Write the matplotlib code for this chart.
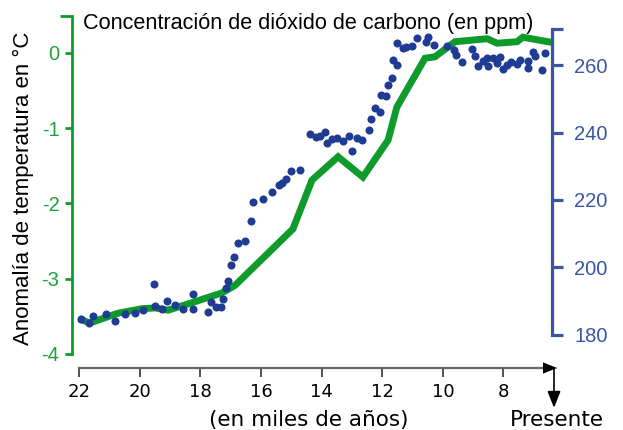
import matplotlib
matplotlib.use("Agg")
import matplotlib.pyplot as plt

plt.rcParams['axes.unicode_minus'] = False

# temperature anomaly (green line), thousands of years before present
temp_age = [21.91, 21.65, 20.72, 19.93, 19.50, 19.07, 18.28, 17.29, 16.86,
            14.95, 14.32, 13.46, 12.64, 11.81, 11.52, 10.59, 10.26, 9.60,
            8.54, 8.21, 7.55, 7.36, 6.53]
temp_anom = [-3.55, -3.59, -3.46, -3.40, -3.39, -3.42, -3.32, -3.19, -3.09,
             -2.34, -1.69, -1.38, -1.65, -1.16, -0.72, -0.07, -0.05, 0.15,
             0.19, 0.13, 0.15, 0.21, 0.15]

# CO2 concentration (blue dots)
co2_age = [21.94, 21.68, 21.55, 21.12, 20.82, 20.49, 20.16, 19.90, 19.53, 19.50,
           19.27, 19.11, 18.84, 18.58, 18.25, 18.25, 17.75, 17.65, 17.49, 17.32,
           17.26, 17.16, 17.09, 16.99, 16.89, 16.76, 16.53, 16.33, 16.27, 15.94,
           15.64, 15.41, 15.31, 15.18, 15.01, 14.72, 14.39, 14.19, 14.06, 13.90,
           13.83, 13.66, 13.50, 13.30, 13.10, 13.00, 12.84, 12.67, 12.44, 12.37,
           12.24, 12.08, 12.04, 11.88, 11.81, 11.68, 11.65, 11.51, 11.51, 11.32,
           11.22, 11.02, 10.86, 10.56, 10.49, 10.30, 9.87, 9.64, 9.57, 9.37,
           9.04, 8.94, 8.84, 8.68, 8.54, 8.51, 8.35, 8.21, 8.12, 8.02,
           7.88, 7.75, 7.55, 7.46, 7.19, 7.19, 7.03, 6.96, 6.73, 6.63]
co2_ppm = [184.7, 183.6, 185.6, 186.2, 184.1, 186.2, 186.5, 187.4, 195.1, 188.6,
           187.7, 190.1, 188.9, 187.7, 192.1, 187.7, 186.8, 189.8, 188.3, 188.3,
           190.7, 193.9, 196.0, 200.7, 203.1, 207.3, 207.9, 213.8, 219.4, 220.3,
           222.4, 224.4, 225.0, 226.2, 228.6, 228.9, 239.6, 238.7, 239.0, 240.1,
           236.9, 238.1, 238.4, 237.5, 239.0, 234.5, 238.4, 237.8, 240.7, 244.0,
           247.3, 246.1, 251.1, 250.8, 254.1, 256.1, 261.5, 260.0, 266.5, 265.0,
           265.3, 265.6, 268.0, 266.8, 268.3, 265.9, 265.6, 264.4, 263.0, 260.9,
           264.7, 262.7, 259.7, 261.2, 262.1, 259.7, 262.1, 260.6, 262.4, 258.8,
           260.0, 260.9, 260.3, 261.5, 259.1, 261.2, 263.9, 262.7, 258.5, 263.6]

x_ticks = [22, 20, 18, 16, 14, 12, 10, 8]
temp_ticks = [0, -1, -2, -3, -4]
co2_ticks = [260, 240, 220, 200, 180]

green = '#0f9b2c'
green_txt = '#1aa33a'
blue_axis = '#3a55a3'
blue_dot = '#1f3b94'

fig = plt.figure(figsize=(6.23, 4.30), dpi=100)
ax = fig.add_axes([72/623, 1 - 368/430, 480/623, 352/430])
ax2 = ax.twinx()

ax.set_xlim(22.241, 6.399)
ax.set_ylim(-4.189, 0.492)
ax2.set_ylim(170.22, 274.52)

ax.plot(temp_age, temp_anom, color=green, lw=5, solid_joinstyle='miter')
ax2.plot(co2_age, co2_ppm, 'o', color=blue_dot, ms=5.8, mec='none')

# spines
for s in ['top', 'right', 'bottom']:
    ax.spines[s].set_visible(False)
for s in ['top', 'left', 'bottom']:
    ax2.spines[s].set_visible(False)
ax.spines['left'].set_color(green)
ax.spines['left'].set_linewidth(2.0)
ax.spines['left'].set_bounds(-4, 0.49)
ax2.spines['right'].set_color(blue_axis)
ax2.spines['right'].set_linewidth(2.3)
ax2.spines['right'].set_bounds(180, 270.7)

# left axis ticks
ax.set_yticks(temp_ticks)
ax.set_yticklabels([str(v) for v in temp_ticks], fontfamily='Liberation Sans')
ax.set_yticks([-4, 0.49], minor=True)
ax.tick_params(axis='y', which='major', direction='out', length=5, width=2.0,
               color=green, pad=4, labelsize=14.5, labelcolor=green_txt)
ax.tick_params(axis='y', which='minor', direction='out', length=9, width=2.0,
               color=green)

# right axis ticks
ax2.set_yticks(co2_ticks)
ax2.set_yticklabels([str(v) for v in co2_ticks], fontfamily='Liberation Sans')
ax2.set_yticks([270.7], minor=True)
ax2.tick_params(axis='y', which='both', direction='out', length=8, width=2.3,
                color=blue_axis, pad=8, labelsize=14.5, labelcolor=blue_axis)

# bottom axis
ax.set_xticks(x_ticks)
ax.set_xticklabels([str(v) for v in x_ticks])
ax.tick_params(axis='x', direction='out', length=6.5, width=1.1, color='#222222',
               pad=4, labelsize=13)
ax.plot([22, 6.6], [0, 0], color='#666666', lw=1.6, clip_on=False,
        transform=ax.get_xaxis_transform())
ax.annotate('', xy=(6.23, 0), xytext=(6.7, 0),
            xycoords=('data', 'axes fraction'),
            arrowprops=dict(arrowstyle='-|>,head_length=1.0,head_width=0.4',
                            color='black', lw=0.1, mutation_scale=10,
                            shrinkA=0, shrinkB=0))
ax.annotate('', xy=(6.333, -0.113), xytext=(6.333, 0),
            xycoords=('data', 'axes fraction'),
            arrowprops=dict(arrowstyle='-|>,head_length=1.0,head_width=0.4',
                            color='black', lw=1.2, mutation_scale=10,
                            shrinkA=0, shrinkB=0))

fig.text(83/623, 1 - 29/430, 'Concentración de dióxido de carbono (en ppm)',
         fontfamily='Liberation Sans', fontsize=15.6, ha='left', va='baseline')
fig.text(23/623, 1 - 188/430, 'Anomalía de temperatura en °C',
         fontfamily='Liberation Sans', fontsize=16, rotation=90,
         ha='center', va='center')
fig.text(309/623, 1 - 426/430, '(en miles de años)', fontsize=15.5,
         ha='center', va='baseline')
fig.text(557/623, 1 - 426/430, 'Presente', fontsize=15.5,
         ha='center', va='baseline')

fig.savefig('out.png', dpi=100)
